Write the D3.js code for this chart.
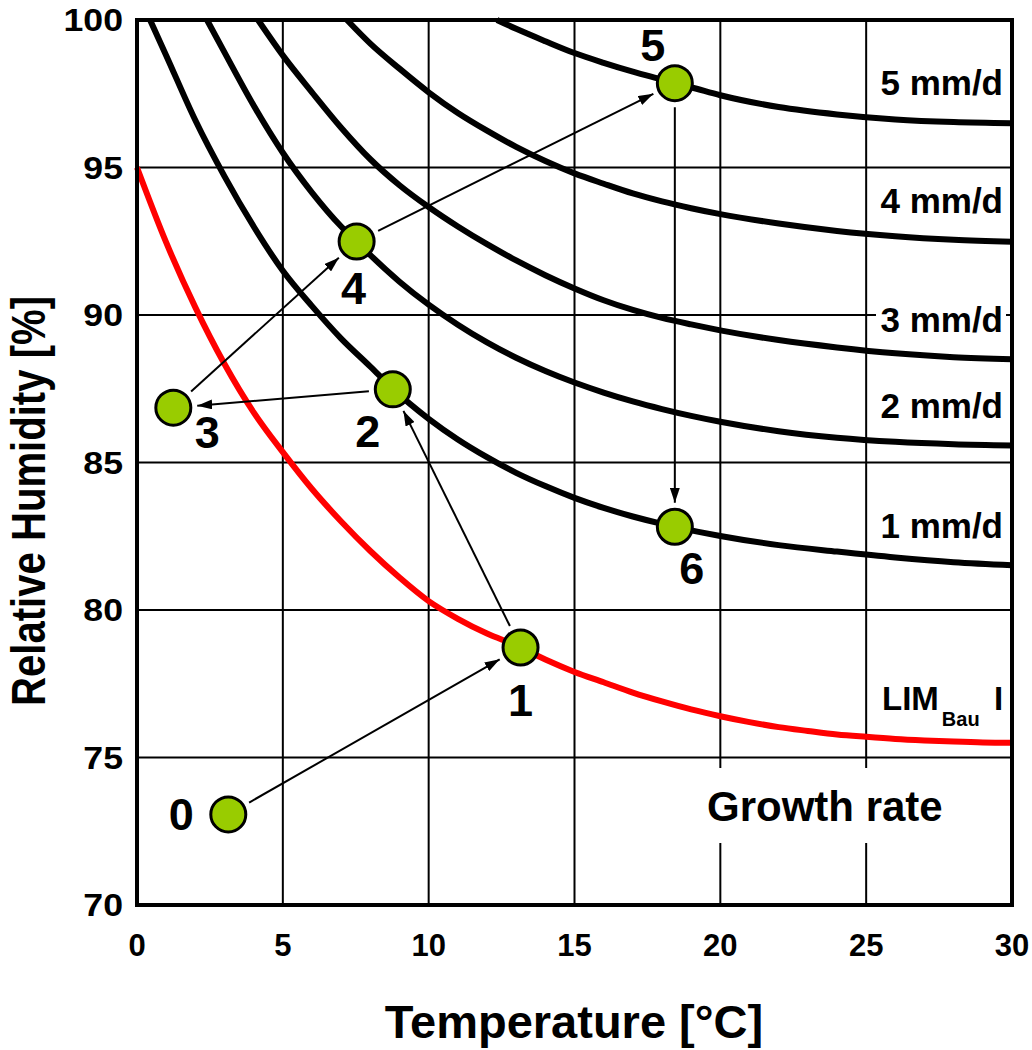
<!DOCTYPE html>
<html lang="en">
<head>
  <meta charset="UTF-8" />
  <title>Growth rate isopleths</title>
  <script src="https://d3js.org/d3.v7.min.js"></script>
  <style>
    html, body {
      margin: 0;
      padding: 0;
      background: #fff;
    }
    svg text {
      font-family: "Liberation Sans", Arial, sans-serif;
      font-weight: bold;
      fill: #000;
    }
  </style>
</head>
<body>
  <svg id="chart"></svg>

  <script>
    // axis ticks
    const xTicks = [0, 5, 10, 15, 20, 25, 30];
    const yTicks = [70, 75, 80, 85, 90, 95, 100];

    // LIM Bau I isopleth [temperature, humidity]
    const limBau = [[0, 95], [1, 92.46], [2, 90.26], [3, 88.34], [4, 86.7], [5, 85.35], [6, 84.1], [7, 83.0],
      [8, 82.0], [9, 81.1], [10, 80.3], [11, 79.7], [12, 79.2], [13, 78.8], [14, 78.32], [15, 77.9],
      [16, 77.55], [17, 77.2], [18, 76.9], [19, 76.63], [20, 76.4], [21, 76.2], [22, 76.03], [23, 75.9],
      [24, 75.78], [25, 75.7], [26, 75.63], [27, 75.58], [28, 75.54], [29, 75.51], [30, 75.5]];

    // growth rate isopleths
    const growth1 = [[0.45, 100], [1, 98.8], [2, 96.6], [3, 94.7], [4, 93.0], [5, 91.5], [6, 90.3], [7, 89.2],
      [8, 88.25], [8.77, 87.5], [10, 86.48], [11, 85.78], [12, 85.18], [13, 84.65], [14, 84.2], [15, 83.8],
      [16, 83.46], [17, 83.17], [18, 82.92], [18.44, 82.82], [20, 82.51], [22, 82.2], [24, 81.98],
      [26, 81.78], [28, 81.62], [30, 81.52]];
    const growth2 = [[2.4, 100], [3, 98.9], [4, 97.1], [5, 95.5], [6, 94.15], [7, 93.0], [7.53, 92.49], [8, 92.03],
      [9, 91.13], [10, 90.35], [11, 89.67], [12, 89.07], [13, 88.55], [14, 88.1], [15, 87.71], [16, 87.37],
      [17, 87.07], [18, 86.81], [19, 86.58], [20, 86.38], [22, 86.06], [24, 85.84], [26, 85.7], [28, 85.62],
      [30, 85.58]];
    const growth3 = [[4.15, 100], [5, 98.8], [6, 97.55], [7, 96.35], [8, 95.28], [9, 94.4], [10, 93.66], [11, 93.0],
      [12, 92.4], [13, 91.85], [14, 91.35], [15, 90.9], [16, 90.5], [17, 90.17], [18, 89.9], [19, 89.68],
      [20, 89.48], [22, 89.15], [24, 88.9], [26, 88.7], [28, 88.57], [30, 88.5]];
    const growth4 = [[7.2, 100], [8, 99.2], [9, 98.35], [10, 97.55], [11, 96.85], [12, 96.25], [13, 95.7],
      [14, 95.22], [15, 94.8], [16, 94.45], [17, 94.12], [18, 93.85], [19, 93.62], [20, 93.42], [22, 93.1],
      [24, 92.85], [26, 92.67], [28, 92.55], [30, 92.48]];
    const growth5 = [[12.34, 100], [13, 99.7], [14, 99.28], [15, 98.88], [16, 98.55], [17, 98.25], [18, 97.98],
      [18.44, 97.86], [19, 97.72], [20, 97.45], [22, 97.05], [24, 96.8], [26, 96.63], [28, 96.54], [30, 96.5]];

    const growthCurves = [growth1, growth2, growth3, growth4, growth5];
    const growthNames = ["1 mm/d", "2 mm/d", "3 mm/d", "4 mm/d", "5 mm/d"];

    // climate states along the path
    const stateNames = ["0", "1", "2", "3", "4", "5", "6"];
    const stateTemp = [3.13, 13.15, 8.77, 1.245, 7.53, 18.44, 18.44];
    const stateHum = [73.07, 78.73, 87.48, 86.86, 92.49, 97.86, 82.82];

    // layout (pixels)
    const W = 1032, H = 1050;
    const margin = {top: 20, right: 20, bottom: 145, left: 137};
    const stateLabelOffset = [[-47, 16], [0, 69], [-25, 58], [34, 40], [-3, 62], [-22, -22], [17, 57]];
    const growthLabelBaseline = [538, 418, 332, 213, 95];
    const labelRight = 1003;

    const svg = d3.select("#chart").attr("width", W).attr("height", H);

    const x = d3.scaleLinear().domain([0, 30]).range([margin.left, W - margin.right]);
    const y = d3.scaleLinear().domain([70, 100]).range([H - margin.bottom, margin.top]);

    svg.append("defs").append("marker")
      .attr("id", "arrow")
      .attr("markerUnits", "userSpaceOnUse")
      .attr("markerWidth", 15)
      .attr("markerHeight", 10)
      .attr("refX", 15)
      .attr("refY", 5)
      .attr("orient", "auto")
      .append("path")
      .attr("d", "M0,0 L15,5 L0,10 Z")
      .attr("fill", "#000");

    // grid
    const grid = svg.append("g");
    grid.selectAll("line.vx")
      .data(xTicks)
      .join("line")
      .attr("x1", d => x(d)).attr("x2", d => x(d))
      .attr("y1", y(70)).attr("y2", y(100))
      .attr("stroke", "#000").attr("stroke-width", 2);
    grid.selectAll("line.hy")
      .data(yTicks)
      .join("line")
      .attr("x1", x(0)).attr("x2", x(30))
      .attr("y1", d => y(d)).attr("y2", d => y(d))
      .attr("stroke", "#000").attr("stroke-width", 2);

    // white boxes behind the in-plot labels
    growthLabelBaseline.forEach(b => {
      svg.append("rect")
        .attr("x", 876).attr("y", b - 29)
        .attr("width", 130).attr("height", 35)
        .attr("fill", "#fff");
    });
    svg.append("rect")
      .attr("x", 700).attr("y", 768)
      .attr("width", 255).attr("height", 75)
      .attr("fill", "#fff");

    // curves
    const line = d3.line()
      .x(d => x(d[0]))
      .y(d => y(d[1]))
      .curve(d3.curveMonotoneX);

    svg.append("g")
      .selectAll("path")
      .data(growthCurves)
      .join("path")
      .attr("d", line)
      .attr("fill", "none")
      .attr("stroke", "#000")
      .attr("stroke-width", 6);

    svg.append("path")
      .attr("d", line(limBau))
      .attr("fill", "none")
      .attr("stroke", "#ff0000")
      .attr("stroke-width", 6);

    // frame
    svg.append("rect")
      .attr("x", x(0)).attr("y", y(100))
      .attr("width", x(30) - x(0)).attr("height", y(70) - y(100))
      .attr("fill", "none")
      .attr("stroke", "#000")
      .attr("stroke-width", 4);

    // arrows between states
    const states = stateNames.map((n, i) => ({name: n, px: x(stateTemp[i]), py: y(stateHum[i])}));
    const gap = 24;
    const arrows = d3.pairs(states);
    svg.append("g")
      .selectAll("line")
      .data(arrows)
      .join("line")
      .each(function ([a, b]) {
        const dx = b.px - a.px, dy = b.py - a.py;
        const len = Math.hypot(dx, dy);
        const ux = dx / len, uy = dy / len;
        d3.select(this)
          .attr("x1", a.px + ux * gap).attr("y1", a.py + uy * gap)
          .attr("x2", b.px - ux * gap).attr("y2", b.py - uy * gap);
      })
      .attr("stroke", "#000")
      .attr("stroke-width", 2)
      .attr("marker-end", "url(#arrow)");

    // state markers
    svg.append("g")
      .selectAll("circle")
      .data(states)
      .join("circle")
      .attr("cx", d => d.px)
      .attr("cy", d => d.py)
      .attr("r", 17.5)
      .attr("fill", "#99cc00")
      .attr("stroke", "#000")
      .attr("stroke-width", 3);

    svg.append("g")
      .selectAll("text")
      .data(states)
      .join("text")
      .attr("x", (d, i) => d.px + stateLabelOffset[i][0])
      .attr("y", (d, i) => d.py + stateLabelOffset[i][1])
      .attr("text-anchor", "middle")
      .attr("font-size", 45)
      .text(d => d.name);

    // growth labels
    svg.append("g")
      .selectAll("text")
      .data(growthNames)
      .join("text")
      .attr("x", labelRight)
      .attr("y", (d, i) => growthLabelBaseline[i])
      .attr("text-anchor", "end")
      .attr("font-size", 35)
      .text(d => d);

    const lim = svg.append("text")
      .attr("x", 882)
      .attr("y", 710)
      .attr("font-size", 33);
    lim.append("tspan").text("LIM");
    lim.append("tspan").attr("font-size", 20).attr("dy", 16).attr("dx", 3).text("Bau");
    svg.append("text")
      .attr("x", 994).attr("y", 710)
      .attr("font-size", 33)
      .text("I");

    svg.append("text")
      .attr("x", 707).attr("y", 821)
      .attr("font-size", 42)
      .text("Growth rate");

    // tick labels
    svg.append("g")
      .selectAll("text")
      .data(xTicks)
      .join("text")
      .attr("x", d => x(d))
      .attr("y", 956)
      .attr("text-anchor", "middle")
      .attr("font-size", 31)
      .text(d => d);

    // y tick labels are drawn a little wider in the original
    svg.append("g")
      .selectAll("text")
      .data(yTicks)
      .join("text")
      .attr("transform", d => `translate(123,${y(d) + 11}) scale(1.15,1)`)
      .attr("text-anchor", "end")
      .attr("font-size", 31)
      .text(d => d);

    // axis titles
    svg.append("text")
      .attr("x", 574).attr("y", 1038)
      .attr("text-anchor", "middle")
      .attr("font-size", 47)
      .text("Temperature [°C]");

    svg.append("text")
      .attr("transform", "translate(45,501) rotate(-90)")
      .attr("text-anchor", "middle")
      .attr("font-size", 49)
      .attr("textLength", 410)
      .attr("lengthAdjust", "spacingAndGlyphs")
      .text("Relative Humidity [%]");
  </script>
</body>
</html>
